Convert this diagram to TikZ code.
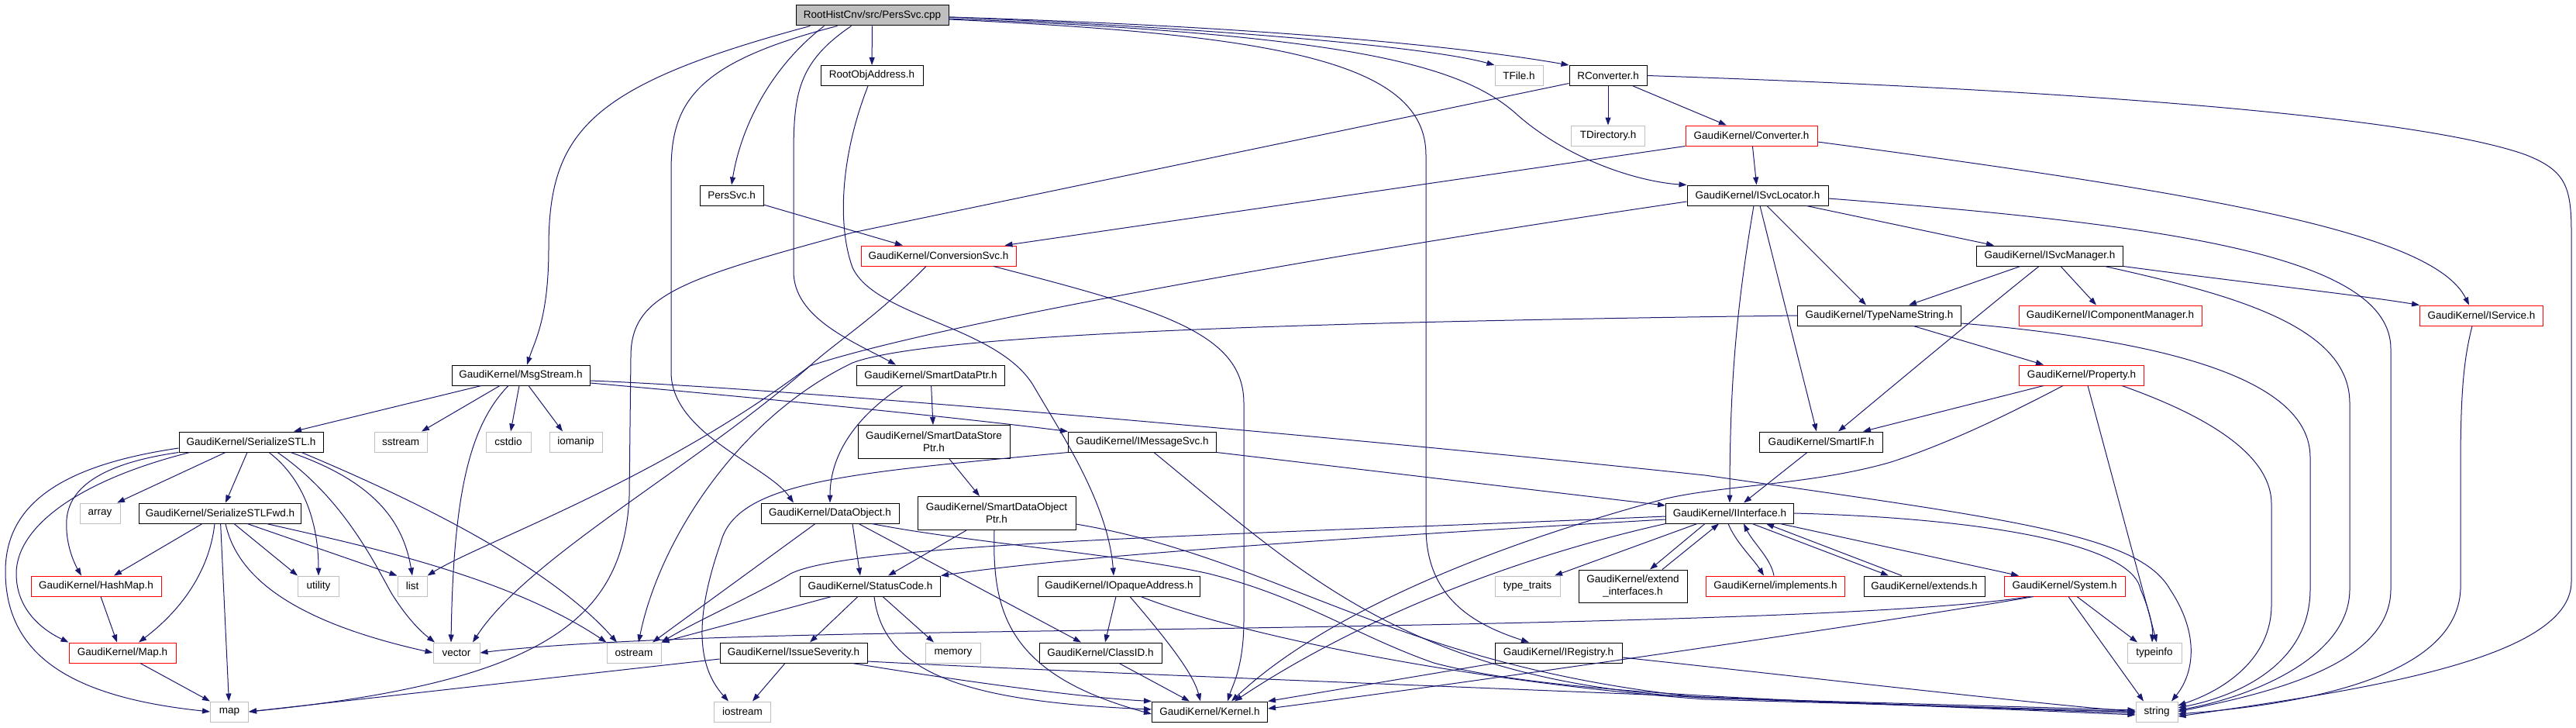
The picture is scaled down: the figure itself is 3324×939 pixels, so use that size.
\documentclass[tikz,border=0pt]{standalone}
\usepackage{fontspec}
\setmainfont{Liberation Sans}
\usetikzlibrary{arrows.meta}
\definecolor{edgeblue}{HTML}{191970}
\definecolor{boxgray}{HTML}{BFBFBF}

\begin{document}
\begin{tikzpicture}[x=1pt,y=-1pt,
	file/.style={draw=black,line width=1pt,inner sep=0pt,minimum height=26pt,align=center,font=\fontsize{13.5}{16}\selectfont},
	redfile/.style={file,draw=red},
	sysfile/.style={file,draw=boxgray},
	dep/.style={draw=edgeblue,line width=1pt,-{Triangle[length=10pt,width=7pt]}}]
	\useasboundingbox (0,0) rectangle (3324,939);

	\node[file,fill=boxgray,minimum width=197pt] (root) at (1125.5,20) {RootHistCnv/src/PersSvc.cpp};
	\node[file,minimum width=132pt] (rootaddr) at (1125,97.5) {RootObjAddress.h};
	\node[sysfile,minimum width=62pt] (tfile) at (1960,97.5) {TFile.h};
	\node[file,minimum width=100pt] (rconv) at (2075,97.5) {RConverter.h};
	\node[sysfile,minimum width=95pt] (tdir) at (2075,175) {TDirectory.h};
	\node[redfile,minimum width=170pt] (conv) at (2260,175) {GaudiKernel/Converter.h};
	\node[file,minimum width=82pt] (persh) at (944,252) {PersSvc.h};
	\node[file,minimum width=182pt] (svcloc) at (2268,252) {GaudiKernel/ISvcLocator.h};
	\node[redfile,minimum width=200pt] (convsvc) at (1211,330) {GaudiKernel/ConversionSvc.h};
	\node[file,minimum width=189pt] (svcmgr) at (2645,330) {GaudiKernel/ISvcManager.h};
	\node[file,minimum width=211pt] (typename) at (2425,407) {GaudiKernel/TypeNameString.h};
	\node[redfile,minimum width=236pt] (compmgr) at (2723,407) {GaudiKernel/IComponentManager.h};
	\node[redfile,minimum width=159pt] (iservice) at (3202,407) {GaudiKernel/IService.h};
	\node[file,minimum width=178pt] (msgstream) at (672,484) {GaudiKernel/MsgStream.h};
	\node[file,minimum width=191pt] (smartptr) at (1201,484) {GaudiKernel/SmartDataPtr.h};
	\node[redfile,minimum width=161pt] (property) at (2686,484) {GaudiKernel/Property.h};
	\node[file,minimum width=186pt] (serial) at (324,570) {GaudiKernel/SerializeSTL.h};
	\node[sysfile,minimum width=68pt] (sstream) at (517,570) {sstream};
	\node[sysfile,minimum width=58pt] (cstdio) at (656,570) {cstdio};
	\node[sysfile,minimum width=68pt] (iomanip) at (743,570) {iomanip};
	\node[file,minimum width=196pt,minimum height=43pt] (storeptr) at (1205,570) {GaudiKernel/SmartDataStore\\Ptr.h};
	\node[file,minimum width=191pt] (msgsvc) at (1474,570) {GaudiKernel/IMessageSvc.h};
	\node[file,minimum width=159pt] (smartif) at (2350,570) {GaudiKernel/SmartIF.h};
	\node[sysfile,minimum width=52pt] (array) at (129,662) {array};
	\node[file,minimum width=209pt] (serialfwd) at (284,662) {GaudiKernel/SerializeSTLFwd.h};
	\node[file,minimum width=178pt] (dataobj) at (1071,662) {GaudiKernel/DataObject.h};
	\node[file,minimum width=204pt,minimum height=43pt] (objptr) at (1286,662) {GaudiKernel/SmartDataObject\\Ptr.h};
	\node[file,minimum width=165pt] (iface) at (2232,662) {GaudiKernel/IInterface.h};
	\node[redfile,minimum width=168pt] (hashmap) at (124,756) {GaudiKernel/HashMap.h};
	\node[sysfile,minimum width=53pt] (utility) at (411,756) {utility};
	\node[sysfile,minimum width=38pt] (list) at (532,756) {list};
	\node[file,minimum width=181pt] (status) at (1123,756) {GaudiKernel/StatusCode.h};
	\node[file,minimum width=209pt] (opaque) at (1444,756) {GaudiKernel/IOpaqueAddress.h};
	\node[sysfile,minimum width=84pt] (traits) at (1971,756) {type\_traits};
	\node[file,minimum width=140pt,minimum height=42pt] (extif) at (2107,756) {GaudiKernel/extend\\\_interfaces.h};
	\node[redfile,minimum width=179pt] (implements) at (2291,756) {GaudiKernel/implements.h};
	\node[file,minimum width=156pt] (extends) at (2483,756) {GaudiKernel/extends.h};
	\node[redfile,minimum width=156pt] (system) at (2664,756) {GaudiKernel/System.h};
	\node[redfile,minimum width=138pt] (mapg) at (158,842) {GaudiKernel/Map.h};
	\node[sysfile,minimum width=60pt] (vector) at (589,842) {vector};
	\node[sysfile,minimum width=70pt] (ostream) at (818,842) {ostream};
	\node[file,minimum width=190pt] (severity) at (1024,842) {GaudiKernel/IssueSeverity.h};
	\node[sysfile,minimum width=71pt] (memory) at (1230,842) {memory};
	\node[file,minimum width=158pt] (classid) at (1420,842) {GaudiKernel/ClassID.h};
	\node[file,minimum width=164pt] (registry) at (2011,842) {GaudiKernel/IRegistry.h};
	\node[sysfile,minimum width=70pt] (typeinfo) at (2780,842) {typeinfo};
	\node[sysfile,minimum width=49pt] (map) at (296,918) {map};
	\node[sysfile,minimum width=73pt] (iostream) at (958,918) {iostream};
	\node[file,minimum width=149pt] (kernel) at (1561,918) {GaudiKernel/Kernel.h};
	\node[sysfile,minimum width=54pt] (string) at (2783,918) {string};

	\draw[dep] ([xshift=-80pt]root.south) .. controls (760,110) and (708,170) .. (708,320) .. controls (708,410) and (690,440) .. ([xshift=8pt]msgstream.north);
	\draw[dep] ([xshift=-45pt]root.south) .. controls (900,80) and (866,130) .. (866,220) -- (866,480) .. controls (866,560) and (990,600) .. ([xshift=-47pt]dataobj.north);
	\draw[dep] ([xshift=-62pt]root.south) .. controls (990,90) and (955,170) .. (persh.north);
	\draw[dep] ([xshift=-27pt]root.south) .. controls (1030,80) and (1024,120) .. (1024,200) -- (1024,350) .. controls (1024,410) and (1100,440) .. ([xshift=-45pt]smartptr.north);
	\draw[dep] (root) -- (rootaddr);
	\draw[dep] ([yshift=-2pt]root.east) .. controls (1600,38) and (1850,62) .. (tfile.north west);
	\draw[dep] ([yshift=-2pt]root.east) .. controls (1650,35) and (1900,62) .. (rconv.north west);
	\draw[dep] ([yshift=-4pt]root.east) .. controls (1750,45) and (1890,85) .. (1960,150) .. controls (2030,210) and (2120,235) .. (svcloc.north west);
	\draw[dep] ([yshift=-5pt]root.east) .. controls (1650,45) and (1840,80) .. (1840,200) -- (1840,680) .. controls (1840,770) and (1900,805) .. ([xshift=-38pt]registry.north);

	\draw[dep] (rconv) -- (tdir);
	\draw[dep] (rconv) -- (conv);
	\draw[dep] (rconv.east) .. controls (2800,120) and (3150,160) .. (3260,200) .. controls (3310,220) and (3318,240) .. (3318,300) -- (3318,750) .. controls (3318,850) and (3050,890) .. ([yshift=-6pt]string.east);
	\draw[dep] ([yshift=-10pt]rconv.west) -- (1100,300) .. controls (880,360) and (814,380) .. (814,460) -- (812,640) .. controls (805,800) and (700,880) .. (map.east);
	\draw[dep] (conv) -- (svcloc);
	\draw[dep] (conv.south west) -- ([xshift=-15pt]convsvc.north east);
	\draw[dep] ([yshift=-8pt]conv.east) .. controls (2850,250) and (3140,300) .. ([xshift=-16pt]iservice.north);
	\draw[dep] (persh) -- (convsvc);
	\draw[dep] ([xshift=71pt]convsvc.south) .. controls (1500,400) and (1605,430) .. (1605,520) -- (1605,800) .. controls (1605,860) and (1590,885) .. ([xshift=23pt]kernel.north);
	\draw[dep] ([xshift=-16pt]convsvc.south) .. controls (1130,410) and (1080,440) .. (1045,472) .. controls (900,600) and (680,720) .. ([xshift=21pt]vector.north);

	\draw[dep] ([xshift=63pt]svcloc.south) -- ([xshift=-72pt]svcmgr.north);
	\draw[dep] ([xshift=12pt]svcloc.south) -- ([xshift=-17pt]typename.north);
	\draw[dep] ([xshift=3pt]svcloc.south) -- ([xshift=-6pt]smartif.north);
	\draw[dep] ([xshift=-5pt]svcloc.south) .. controls (2240,400) and (2232,500) .. (iface.north);
	\draw[dep] ([yshift=-4pt]svcloc.east) .. controls (2800,290) and (3085,330) .. (3085,450) -- (3085,760) .. controls (3085,860) and (2920,895) .. (string.east);
	\draw[dep] ([yshift=-8pt]svcloc.west) .. controls (1700,330) and (1200,420) .. (1045,472) .. controls (850,620) and (620,700) .. (list.north east);
	\draw[dep] ([xshift=-38pt]svcmgr.south) -- ([xshift=38pt]typename.north);
	\draw[dep] ([xshift=-14pt]svcmgr.south) .. controls (2560,400) and (2440,500) .. ([xshift=22pt]smartif.north);
	\draw[dep] ([xshift=14pt]svcmgr.south) -- ([xshift=-18pt]compmgr.north);
	\draw[dep] (svcmgr.south east) .. controls (2900,365) and (3040,380) .. (iservice.north west);
	\draw[dep] ([xshift=71pt]svcmgr.south) .. controls (2880,380) and (3032,420) .. (3032,520) -- (3032,760) .. controls (3032,850) and (2900,900) .. ([yshift=2pt]string.east);
	\draw[dep] ([xshift=44pt]typename.south) -- ([xshift=-49pt]property.north);
	\draw[dep] ([yshift=-10pt]typename.east) .. controls (2800,440) and (2981,490) .. (2981,590) -- (2981,760) .. controls (2981,850) and (2900,895) .. ([yshift=5pt]string.east);
	\draw[dep] (typename.west) .. controls (1700,415) and (1200,430) .. (1100,468) .. controls (950,540) and (850,700) .. ([xshift=6pt]ostream.north);
	\draw[dep] ([xshift=-12pt]iservice.south) .. controls (3180,460) and (3175,500) .. (3175,600) -- (3175,760) .. controls (3170,880) and (2950,910) .. ([yshift=-3pt]string.east);

	\draw[dep] ([xshift=-49pt]property.south) -- ([xshift=54pt]smartif.north);
	\draw[dep] ([xshift=-24pt]property.south) .. controls (2600,530) and (2520,570) .. (2440,596) .. controls (2340,625) and (2230,625) .. (2150,643) .. controls (1900,710) and (1700,800) .. ([xshift=28pt]kernel.north);
	\draw[dep] ([xshift=8pt]property.south) -- ([xshift=3pt]typeinfo.north);
	\draw[dep] ([xshift=52pt]property.south) .. controls (2830,530) and (2931,580) .. (2931,650) -- (2931,780) .. controls (2931,850) and (2870,890) .. ([yshift=8pt]string.east);
	\draw[dep] ([xshift=-18pt]smartif.south) -- ([xshift=18pt]iface.north);

	\draw[dep] ([yshift=-8pt]iface.west) .. controls (1800,690) and (1400,715) .. (status.north east);
	\draw[dep] ([yshift=-4pt]iface.west) .. controls (1600,690) and (1100,700) .. (1020,740) .. controls (980,765) and (900,800) .. (ostream.north east);
	\draw[dep] (iface.south west) .. controls (1950,720) and (1750,800) .. ([xshift=32pt]kernel.north);
	\draw[dep] ([xshift=-42pt]iface.south) -- ([xshift=35pt]traits.north);
	\draw[dep] ([xshift=-32pt]iface.south) -- ([xshift=22pt]extif.north);
	\draw[dep] ([xshift=38pt]extif.north) -- ([xshift=-14pt]iface.south);
	\draw[dep] ([xshift=-2pt]iface.south) .. controls (2240,700) and (2262,720) .. ([xshift=-15pt]implements.north);
	\draw[dep] ([xshift=-2pt]implements.north) .. controls (2285,720) and (2262,700) .. ([xshift=18pt]iface.south);
	\draw[dep] ([xshift=29pt]iface.south) -- ([xshift=-46pt]extends.north);
	\draw[dep] ([xshift=-29pt]extends.north) -- ([xshift=47pt]iface.south);
	\draw[dep] ([xshift=65pt]iface.south) -- ([xshift=-59pt]system.north);
	\draw[dep] (iface.east) .. controls (2550,668) and (2750,700) .. (2762,760) .. controls (2775,790) and (2778,810) .. ([xshift=-3pt]typeinfo.north);

	\draw[dep] ([xshift=-45pt]system.south) .. controls (2400,805) and (1500,810) .. (1100,818) .. controls (850,823) and (700,832) .. (vector.east);
	\draw[dep] ([xshift=-40pt]system.south) .. controls (2450,800) and (1900,880) .. ([yshift=4pt]kernel.east);
	\draw[dep] ([xshift=16pt]system.south) -- ([xshift=-22pt]typeinfo.north);
	\draw[dep] ([xshift=5pt]system.south) -- ([xshift=-17pt]string.north);

	\draw[dep] ([xshift=-51pt]msgstream.south) -- ([xshift=55pt]serial.north);
	\draw[dep] ([xshift=-27pt]msgstream.south) -- ([xshift=27pt]sstream.north);
	\draw[dep] ([xshift=-16pt]msgstream.south) .. controls (605,550) and (585,640) .. ([xshift=-7pt]vector.north);
	\draw[dep] ([xshift=-2pt]msgstream.south) -- ([xshift=3pt]cstdio.north);
	\draw[dep] ([xshift=10pt]msgstream.south) -- ([xshift=-17pt]iomanip.north);
	\draw[dep] ([yshift=-10pt]msgstream.east) .. controls (1000,515) and (1250,540) .. (msgsvc.north west);
	\draw[dep] ([yshift=-7pt]msgstream.east) .. controls (1000,500) and (1700,560) .. (2200,613) .. controls (2600,670) and (2760,690) .. (2800,760) .. controls (2840,820) and (2830,870) .. ([xshift=19pt]string.north);
	\draw[dep] (msgsvc.south east) -- ([yshift=10pt]iface.west);
	\draw[dep] (msgsvc.south west) .. controls (1100,610) and (950,620) .. (930,700) .. controls (895,800) and (900,860) .. ([xshift=-18pt]iostream.north);
	\draw[dep] ([xshift=15pt]msgsvc.south) .. controls (1680,740) and (1820,880) .. (2200,900) -- ([yshift=-2pt]string.west);

	\draw[dep] ([yshift=-8pt]serial.west) .. controls (80,600) and (7,650) .. (7,737) .. controls (7,850) and (100,900) .. (map.west);
	\draw[dep] (serial.south west) .. controls (150,595) and (90,620) .. (86,670) .. controls (84,700) and (95,725) .. ([xshift=-19pt]hashmap.north);
	\draw[dep] ([xshift=-79pt]serial.south) .. controls (100,620) and (21,680) .. (21,740) .. controls (21,790) and (60,815) .. (mapg.north west);
	\draw[dep] ([xshift=-33pt]serial.south) -- ([xshift=22pt]array.north);
	\draw[dep] ([xshift=-5pt]serial.south) -- ([xshift=7pt]serialfwd.north);
	\draw[dep] ([xshift=23pt]serial.south) .. controls (395,620) and (411,680) .. (utility.north);
	\draw[dep] ([xshift=34pt]serial.south) .. controls (440,640) and (480,720) .. (505,765) .. controls (530,805) and (550,820) .. ([xshift=-28pt]vector.north);
	\draw[dep] ([xshift=51pt]serial.south) .. controls (480,620) and (520,670) .. (list.north);
	\draw[dep] ([xshift=65pt]serial.south) .. controls (500,630) and (700,720) .. ([xshift=-22pt]ostream.north);
	\draw[dep] ([xshift=-23pt]serialfwd.south) -- ([xshift=23pt]hashmap.north);
	\draw[dep] ([xshift=-7pt]serialfwd.south) .. controls (270,740) and (230,790) .. ([xshift=21pt]mapg.north);
	\draw[dep] (serialfwd) -- (map);
	\draw[dep] ([xshift=7pt]serialfwd.south) .. controls (305,740) and (370,800) .. (vector.west);
	\draw[dep] ([xshift=18pt]serialfwd.south) -- (utility.north west);
	\draw[dep] ([xshift=35pt]serialfwd.south) -- (list.north west);
	\draw[dep] ([xshift=60pt]serialfwd.south) .. controls (450,700) and (650,740) .. (ostream.north west);
	\draw[dep] ([xshift=6pt]hashmap.south) -- ([xshift=-7pt]mapg.north);
	\draw[dep] ([xshift=23pt]mapg.south) -- (map.north west);

	\draw[dep] ([xshift=29pt]dataobj.south) -- ([xshift=-13pt]status.north);
	\draw[dep] ([xshift=-19pt]dataobj.south) -- ([xshift=24pt]ostream.north);
	\draw[dep] ([xshift=37pt]dataobj.south) -- ([xshift=-25pt]classid.north);
	\draw[dep] ([xshift=54pt]dataobj.south) .. controls (1250,700) and (1450,715) .. (1560,740) .. controls (1680,770) and (1750,820) .. (1850,855) .. controls (2000,895) and (2300,905) .. (string.west);
	\draw[dep] ([xshift=-39pt]objptr.south) -- ([xshift=23pt]status.north);
	\draw[dep] ([xshift=-3pt]objptr.south) .. controls (1280,790) and (1300,870) .. ([yshift=-3pt]kernel.west);
	\draw[dep] ([yshift=-14pt]objptr.east) .. controls (1650,720) and (1800,860) .. (2200,900) -- ([yshift=2pt]string.west);
	\draw[dep] ([xshift=-50pt]status.south) -- (ostream.north east);
	\draw[dep] ([xshift=-16pt]status.south) -- ([xshift=21pt]severity.north);
	\draw[dep] ([xshift=16pt]status.south) -- ([xshift=-25pt]memory.north);
	\draw[dep] ([xshift=5pt]status.south) .. controls (1140,870) and (1250,905) .. ([yshift=3pt]kernel.west);
	\draw[dep] ([xshift=-4pt]opaque.south) -- ([xshift=6pt]classid.north);
	\draw[dep] ([xshift=14pt]opaque.south) .. controls (1510,830) and (1540,870) .. ([xshift=-12pt]kernel.north);
	\draw[dep] ([xshift=28pt]opaque.south) .. controls (1600,820) and (1900,880) .. (2200,902) -- (string.west);
	\draw[dep] ([xshift=24pt]classid.south) -- ([xshift=-26pt]kernel.north);
	\draw[dep] (registry.south west) -- (kernel.north east);
	\draw[dep] ([yshift=-6pt]registry.east) .. controls (2300,870) and (2600,905) .. (string.west);
	\draw[dep] ([yshift=-8pt]severity.west) -- (map.east);
	\draw[dep] ([xshift=-11pt]severity.south) -- ([xshift=13pt]iostream.north);
	\draw[dep] ([xshift=76pt]severity.south) .. controls (1250,880) and (1400,900) .. (kernel.north west);
	\draw[dep] ([yshift=-11pt]severity.east) .. controls (1400,868) and (2000,890) .. ([yshift=-4pt]string.west);

	\draw[dep] ([xshift=-5pt]rootaddr.south) .. controls (1085,200) and (1080,290) .. (1100,345) .. controls (1130,410) and (1290,420) .. (1335,500) .. controls (1370,560) and (1430,650) .. ([xshift=-7pt]opaque.north);
	\draw[dep] (smartptr) -- (storeptr);
	\draw[dep] ([xshift=-36pt]smartptr.south) .. controls (1100,540) and (1071,590) .. (dataobj.north);
	\draw[dep] ([xshift=20pt]storeptr.south) -- ([xshift=-22pt]objptr.north);
\end{tikzpicture}
\end{document}
